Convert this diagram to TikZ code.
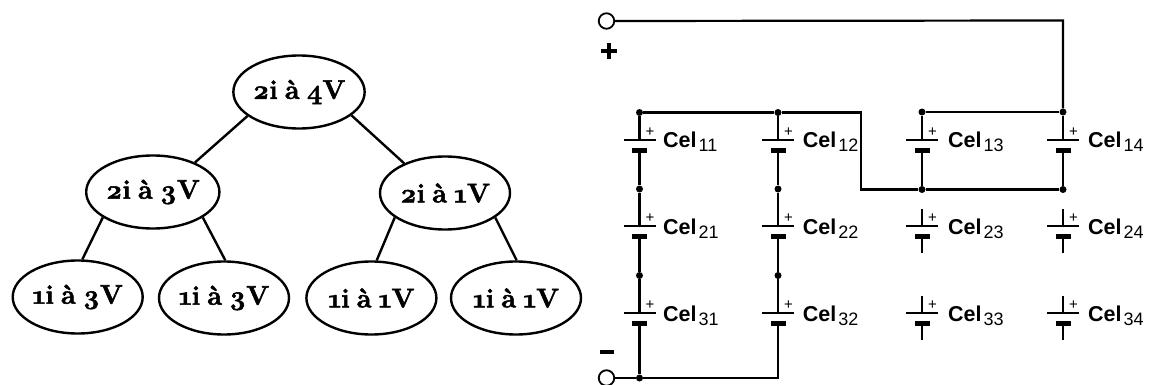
\documentclass[tikz,border=0pt]{standalone}
\usepackage{fontspec}
\setmainfont{Latin Modern Roman}[Numbers=OldStyle, WordSpace=0.7, BoldFeatures={FakeBold=2}]
\setsansfont{Liberation Sans}
\usetikzlibrary{shapes.geometric}
\tikzset{
  load/.style={draw, ellipse, line width=2.4pt, minimum width=130pt, minimum height=73pt, inner sep=0pt, font=\fontsize{27}{29}\selectfont\bfseries},
  link/.style={line width=2.4pt},
  wire/.style={line width=2.2pt},
  dot/.style={circle, fill, inner sep=0pt, minimum size=7pt},
  terminal/.style={circle, draw, line width=1.8pt, fill=white, inner sep=0pt, minimum size=15.5pt},
  longplate/.style={rectangle, fill, inner sep=0pt, minimum width=32pt, minimum height=2pt},
  shortplate/.style={rectangle, fill, inner sep=0pt, minimum width=15pt, minimum height=5pt},
  plusmark/.style={inner sep=0pt, font=\sffamily\fontsize{15}{15}\selectfont},
  celllabel/.style={anchor=base west, inner sep=0pt, font=\sffamily\fontsize{21.5}{22}\selectfont},
  sign/.style={rectangle, fill, inner sep=0pt}
}
\newcommand{\celname}[1]{\textbf{Cel}\hspace{2pt}\raisebox{-4pt}{\fontsize{18}{18}\selectfont #1}}

\begin{document}
\begin{tikzpicture}[x=1pt, y=-1pt]
  \useasboundingbox (0, 0) rectangle (1151, 385);

  % tree of currents
  \node[load] (top) at (299, 92) {2i à 4V};
  \node[load] (midl) at (152.8, 192) {2i à 3V};
  \node[load] (midr) at (445, 193) {2i à 1V};
  \node[load] (lowa) at (77.7, 297) {1i à 3V};
  \node[load] (lowb) at (224, 298) {1i à 3V};
  \node[load] (lowc) at (371.4, 298) {1i à 1V};
  \node[load] (lowd) at (516, 298) {1i à 1V};
  \draw[link] (top.205) -- (midl.35);
  \draw[link] (top.-24) -- (midr.144);
  \draw[link] (midl.207) -- (lowa.83);
  \draw[link] (midl.-27) -- (lowb.88);
  \draw[link] (midr.206) -- (lowc.82);
  \draw[link] (midr.-26) -- (lowd.89);

  % battery cells
  \foreach \c/\x/\d in {1/639.5/23.5, 2/778/24.7, 3/922/26, 4/1063/25} {
    \foreach \r/\y in {1/140, 2/226, 3/313} {
      \node[longplate] (p\r\c) at (\x, \y) {};
      \node[shortplate] (n\r\c) at (\x, \y+10.5) {};
      \node[plusmark] (m\r\c) at (\x+10.5, \y-8) {+};
      \node[celllabel] (l\r\c) at (\x+\d, \y+8) {\celname{\r\c}};
    }
  }

  % junctions and terminals
  \node[terminal] (tplus) at (606.5, 21) {};
  \node[terminal] (tminus) at (606.5, 378) {};
  \node[dot] (a1) at (639.5, 112.5) {};
  \node[dot] (a2) at (778, 112.5) {};
  \node[dot] (a3) at (922, 112) {};
  \node[dot] (a4) at (1063, 112) {};
  \node[dot] (b1) at (639.5, 189) {};
  \node[dot] (b2) at (778, 189) {};
  \node[dot] (b3) at (922, 189.5) {};
  \node[dot] (b4) at (1063, 189.5) {};
  \node[dot] (e1) at (639.5, 275.5) {};
  \node[dot] (e2) at (778, 275.5) {};
  \node[dot] (f1) at (639.5, 378) {};
  \coordinate (corner1) at (1063, 20.5);
  \coordinate (corner2) at (861, 112.5);
  \coordinate (corner3) at (861, 189.5);
  \coordinate (corner4) at (778, 378);
  \coordinate (s23) at (922, 209);
  \coordinate (t23) at (922, 253);
  \coordinate (s24) at (1063, 209);
  \coordinate (t24) at (1063, 253);
  \coordinate (s33) at (922, 296);
  \coordinate (t33) at (922, 340);
  \coordinate (s34) at (1063, 296);
  \coordinate (t34) at (1063, 340);

  \draw[wire] (tplus) -- (corner1) -- (a4);
  \draw[wire] (a1) -- (a2) -- (corner2) -- (corner3) -- (b3) -- (b4);
  \draw[wire] (a3) -- (a4);
  \draw[wire] (tminus) -- (f1) -- (corner4) -- (n32);
  \foreach \c in {1, 2, 3, 4} {
    \draw[wire] (a\c) -- (p1\c);
    \draw[wire] (n1\c) -- (b\c);
  }
  \foreach \c in {1, 2} {
    \draw[wire] (b\c) -- (p2\c);
    \draw[wire] (n2\c) -- (e\c);
    \draw[wire] (e\c) -- (p3\c);
  }
  \draw[wire] (n31) -- (f1);
  \foreach \c in {3, 4} {
    \draw[wire] (s2\c) -- (p2\c);
    \draw[wire] (n2\c) -- (t2\c);
    \draw[wire] (s3\c) -- (p3\c);
    \draw[wire] (n3\c) -- (t3\c);
  }

  % polarity signs
  \node[sign, minimum width=16pt, minimum height=4pt] (plusa) at (609, 51) {};
  \node[sign, minimum width=4pt, minimum height=16pt] (plusb) at (609, 51) {};
  \node[sign, minimum width=14pt, minimum height=4pt] (minus) at (607, 352) {};
\end{tikzpicture}
\end{document}
